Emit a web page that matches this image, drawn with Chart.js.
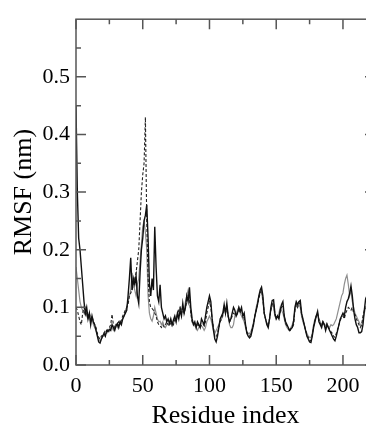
<!DOCTYPE html>
<html>
<head>
<meta charset="utf-8">
<script src="https://cdn.jsdelivr.net/npm/chart.js@4"></script>
<style>
  html, body { margin: 0; padding: 0; overflow: hidden; background: #fff; }
  #wrap { width: 375px; height: 428px; }
</style>
</head>
<body>
<div id="wrap"><canvas id="myChart" width="375" height="428"></canvas></div>
<script>
// RMSF per residue, three runs
const rmsfBlack = [
  0.45, 0.30, 0.22, 0.20, 0.17, 0.14, 0.11, 0.09, 0.10, 0.08,
  0.09, 0.07, 0.085, 0.075, 0.07, 0.06, 0.05, 0.04, 0.038, 0.045,
  0.05, 0.055, 0.05, 0.06, 0.058, 0.062, 0.06, 0.07, 0.065, 0.06,
  0.068, 0.072, 0.065, 0.075, 0.07, 0.08, 0.085, 0.09, 0.095, 0.12,
  0.15, 0.186, 0.13, 0.15, 0.14, 0.155, 0.12, 0.107, 0.16, 0.20,
  0.22, 0.25, 0.26, 0.278, 0.22, 0.14, 0.12, 0.15, 0.13, 0.24,
  0.17, 0.12, 0.11, 0.139, 0.10, 0.09, 0.08, 0.085, 0.075, 0.08,
  0.072, 0.08, 0.07, 0.078, 0.085, 0.075, 0.09, 0.08, 0.095, 0.085,
  0.107, 0.09, 0.10, 0.12, 0.11, 0.135, 0.10, 0.08, 0.07, 0.075,
  0.065, 0.075, 0.07, 0.065, 0.08, 0.075, 0.07, 0.085, 0.10, 0.11,
  0.12, 0.11, 0.08, 0.06, 0.045, 0.04, 0.05, 0.065, 0.08, 0.085,
  0.09, 0.105, 0.09, 0.107, 0.085, 0.075, 0.08, 0.09, 0.10, 0.095,
  0.085, 0.09, 0.10, 0.093, 0.10, 0.085, 0.09, 0.07, 0.055, 0.05,
  0.047, 0.05, 0.06, 0.07, 0.085, 0.095, 0.105, 0.12, 0.13, 0.135,
  0.12, 0.09, 0.08, 0.07, 0.065, 0.08, 0.10, 0.112, 0.113, 0.09,
  0.08, 0.085, 0.08, 0.095, 0.105, 0.11, 0.085, 0.075, 0.07, 0.065,
  0.06, 0.063, 0.065, 0.075, 0.10, 0.11, 0.105, 0.11, 0.112, 0.09,
  0.08, 0.07, 0.06, 0.05, 0.045, 0.04, 0.039, 0.05, 0.065, 0.075,
  0.085, 0.093, 0.075, 0.07, 0.065, 0.075, 0.07, 0.06, 0.07, 0.065,
  0.06, 0.055, 0.05, 0.045, 0.042, 0.05, 0.06, 0.07, 0.08, 0.085,
  0.09, 0.085, 0.10, 0.11, 0.115, 0.124, 0.137, 0.12, 0.095, 0.08,
  0.07, 0.065, 0.056, 0.056, 0.058, 0.07, 0.095, 0.115, 0.12
];
const rmsfGray = [
  0.17, 0.15, 0.13, 0.11, 0.10, 0.095, 0.09, 0.095, 0.085, 0.08,
  0.085, 0.075, 0.08, 0.07, 0.065, 0.06, 0.052, 0.045, 0.042, 0.045,
  0.05, 0.05, 0.055, 0.055, 0.06, 0.058, 0.065, 0.065, 0.06, 0.065,
  0.07, 0.065, 0.07, 0.07, 0.075, 0.08, 0.085, 0.095, 0.10, 0.11,
  0.12, 0.13, 0.16, 0.14, 0.13, 0.12, 0.14, 0.15, 0.18, 0.21,
  0.24, 0.25, 0.23, 0.20, 0.12, 0.09, 0.08, 0.076, 0.085, 0.10,
  0.09, 0.08, 0.075, 0.076, 0.07, 0.075, 0.068, 0.065, 0.07, 0.072,
  0.07, 0.075, 0.068, 0.072, 0.08, 0.075, 0.085, 0.09, 0.10, 0.095,
  0.10, 0.095, 0.11, 0.12, 0.13, 0.12, 0.09, 0.075, 0.07, 0.068,
  0.065, 0.06, 0.065, 0.07, 0.068, 0.065, 0.06, 0.065, 0.075, 0.08,
  0.085, 0.08, 0.07, 0.06, 0.055, 0.06, 0.065, 0.07, 0.075, 0.08,
  0.085, 0.10, 0.09, 0.10, 0.085, 0.07, 0.065, 0.065, 0.07, 0.085,
  0.09, 0.095, 0.10, 0.09, 0.085, 0.08, 0.075, 0.065, 0.058, 0.055,
  0.055, 0.058, 0.065, 0.075, 0.085, 0.10, 0.11, 0.12, 0.125, 0.128,
  0.11, 0.09, 0.08, 0.072, 0.07, 0.08, 0.095, 0.105, 0.10, 0.085,
  0.08, 0.085, 0.09, 0.10, 0.095, 0.09, 0.08, 0.07, 0.065, 0.062,
  0.06, 0.065, 0.07, 0.078, 0.095, 0.105, 0.10, 0.105, 0.10, 0.085,
  0.075, 0.068, 0.06, 0.055, 0.05, 0.048, 0.047, 0.055, 0.07, 0.08,
  0.085, 0.088, 0.08, 0.075, 0.07, 0.075, 0.072, 0.068, 0.07, 0.068,
  0.065, 0.07, 0.068, 0.07, 0.075, 0.08, 0.09, 0.10, 0.11, 0.12,
  0.125, 0.14, 0.15, 0.156, 0.14, 0.12, 0.13, 0.11, 0.10, 0.09,
  0.085, 0.08, 0.075, 0.07, 0.068, 0.08, 0.09, 0.10, 0.105
];
const rmsfDashed = [
  0.10, 0.095, 0.085, 0.075, 0.07, 0.09, 0.10, 0.085, 0.09, 0.08,
  0.09, 0.08, 0.085, 0.075, 0.07, 0.065, 0.055, 0.048, 0.045, 0.05,
  0.052, 0.055, 0.06, 0.058, 0.062, 0.065, 0.07, 0.088, 0.07, 0.065,
  0.07, 0.068, 0.075, 0.072, 0.078, 0.085, 0.09, 0.095, 0.10, 0.105,
  0.12, 0.125, 0.13, 0.14, 0.15, 0.16, 0.18, 0.20, 0.25, 0.30,
  0.33, 0.35, 0.43, 0.25, 0.15, 0.11, 0.10, 0.098, 0.095, 0.09,
  0.085, 0.075, 0.07, 0.068, 0.065, 0.07, 0.066, 0.07, 0.075, 0.07,
  0.068, 0.072, 0.075, 0.07, 0.078, 0.08, 0.088, 0.095, 0.10, 0.09,
  0.095, 0.09, 0.10, 0.11, 0.12, 0.115, 0.09, 0.075, 0.07, 0.072,
  0.068, 0.07, 0.068, 0.065, 0.07, 0.072, 0.068, 0.075, 0.09, 0.10,
  0.11, 0.10, 0.08, 0.065, 0.05, 0.048, 0.055, 0.065, 0.075, 0.08,
  0.088, 0.095, 0.09, 0.10, 0.085, 0.075, 0.078, 0.085, 0.09, 0.088,
  0.085, 0.09, 0.095, 0.09, 0.095, 0.085, 0.08, 0.07, 0.058, 0.052,
  0.05, 0.055, 0.062, 0.072, 0.085, 0.095, 0.105, 0.115, 0.125, 0.13,
  0.115, 0.09, 0.08, 0.072, 0.068, 0.08, 0.095, 0.105, 0.108, 0.088,
  0.08, 0.085, 0.082, 0.092, 0.10, 0.102, 0.085, 0.072, 0.068, 0.065,
  0.058, 0.062, 0.065, 0.07, 0.095, 0.105, 0.10, 0.108, 0.105, 0.088,
  0.078, 0.07, 0.06, 0.052, 0.048, 0.043, 0.042, 0.052, 0.068, 0.078,
  0.085, 0.09, 0.078, 0.072, 0.068, 0.075, 0.07, 0.062, 0.072, 0.066,
  0.062, 0.058, 0.055, 0.05, 0.048, 0.055, 0.062, 0.07, 0.078, 0.082,
  0.085, 0.08, 0.09, 0.095, 0.10, 0.098, 0.095, 0.10, 0.09, 0.088,
  0.08, 0.075, 0.07, 0.065, 0.07, 0.085, 0.095, 0.10, 0.10
];
const xTickValues = [0, 50, 100, 150, 200];
const yTickLabels = ['0.0', '0.1', '0.2', '0.3', '0.4', '0.5'];

function toPoints(vals) {
  return vals.map((v, i) => ({ x: i, y: v }));
}

// inward ticks on all four sides + frame
const frameTicks = {
  id: 'frameTicks',
  afterDraw(chart) {
    const c = chart.ctx, a = chart.chartArea;
    const xs = chart.scales.x, ys = chart.scales.y;
    c.save();
    c.strokeStyle = '#555';
    c.lineWidth = 1.5;
    c.strokeRect(a.left, a.top, a.right - a.left, a.bottom - a.top);
    c.beginPath();
    for (let v = 0; v <= 224; v += 25) {
      const px = xs.getPixelForValue(v);
      const len = v % 50 === 0 ? 10 : 5;
      c.moveTo(px, a.bottom); c.lineTo(px, a.bottom - len);
      c.moveTo(px, a.top); c.lineTo(px, a.top + len);
    }
    for (let k = 0; k <= 11; k++) {
      const py = ys.getPixelForValue(k * 0.05);
      const len = k % 2 === 0 ? 10 : 5;
      c.moveTo(a.left, py); c.lineTo(a.left + len, py);
      c.moveTo(a.right, py); c.lineTo(a.right - len, py);
    }
    c.stroke();
    c.restore();
  }
};

const ctx = document.getElementById('myChart');

new Chart(ctx, {
  type: 'line',
  data: {
    datasets: [
      {
        label: 'run 1',
        data: toPoints(rmsfBlack),
        borderColor: '#111',
        borderWidth: 1.4,
        pointRadius: 0
      },
      {
        label: 'run 2',
        data: toPoints(rmsfDashed),
        borderColor: '#222',
        borderWidth: 1.1,
        borderDash: [3, 2],
        pointRadius: 0
      },
      {
        label: 'run 3',
        data: toPoints(rmsfGray),
        borderColor: '#8e8e8e',
        borderWidth: 1.2,
        pointRadius: 0
      }
    ]
  },
  options: {
    responsive: false,
    animation: false,
    layout: { padding: { top: 11, right: 0, left: 0, bottom: 0 } },
    plugins: { legend: { display: false }, tooltip: { enabled: false } },
    scales: {
      x: {
        type: 'linear',
        min: 0,
        max: 224,
        grid: { display: false, drawTicks: false },
        border: { display: false },
        afterBuildTicks(scale) {
          scale.ticks = xTickValues.map(v => ({ value: v }));
        },
        afterFit(scale) { scale.height = 63; },
        ticks: {
          color: '#000',
          padding: 8,
          maxRotation: 0,
          font: { family: 'Liberation Serif', size: 22 }
        },
        title: {
          display: true,
          text: 'Residue index',
          color: '#000',
          padding: { top: 0, bottom: -4 },
          font: { family: 'Liberation Serif', size: 26 }
        }
      },
      y: {
        min: 0,
        max: 0.6,
        grid: { display: false, drawTicks: false },
        border: { display: false },
        afterBuildTicks(scale) {
          scale.ticks = yTickLabels.map(t => ({ value: parseFloat(t) }));
        },
        afterFit(scale) { scale.width = 76; },
        ticks: {
          color: '#000',
          padding: 6,
          font: { family: 'Liberation Serif', size: 22 },
          callback: (v) => v.toFixed(1)
        },
        title: {
          display: true,
          text: 'RMSF (nm)',
          color: '#000',
          padding: 9,
          font: { family: 'Liberation Serif', size: 26 }
        }
      }
    }
  },
  plugins: [frameTicks]
});
</script>
</body>
</html>
